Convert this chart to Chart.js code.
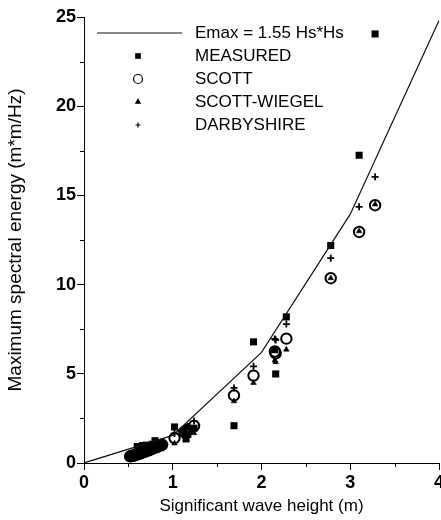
<!DOCTYPE html>
<html>
<head>
<meta charset="utf-8">
<script src="https://cdn.jsdelivr.net/npm/chart.js@4"></script>
<style>
  html, body { margin: 0; padding: 0; background: #fff; overflow: hidden; }
  #wrap { width: 460px; height: 520px; }
</style>
</head>
<body>
<div id="wrap"><canvas id="energyChart" width="460" height="520"></canvas></div>
<script>
// Significant wave height (m) for each record
var hs = [0.52, 0.53, 0.54, 0.55, 0.56, 0.57, 0.58, 0.59, 0.60, 0.61, 0.62, 0.63, 0.64, 0.65, 0.66,
          0.67, 0.69, 0.70, 0.72, 0.74, 0.75, 0.77, 0.78, 0.80, 0.81, 0.82, 0.84, 0.86, 0.88,
          1.02, 1.13, 1.15, 1.17, 1.24, 1.69, 1.91, 2.15, 2.16, 2.28, 2.78, 3.10, 3.28];
// Maximum spectral energy (m*m/Hz): measured and the three estimates
var measured = [0.30, 0.38, 0.42, 0.28, 0.33, 0.45, 0.50, 0.60, 0.92, 0.40, 0.55, 0.78, 0.70, 0.50, 0.98,
                0.88, 0.64, 1.00, 0.82, 0.65, 0.72, 1.05, 0.90, 1.25, 0.75, 0.92, 1.10, 0.85, 0.95,
                2.02, 1.80, 1.35, 1.60, 1.95, 2.09, 6.79, 6.35, 4.99, 8.19, 12.19, 17.25, 24.05];
var scott = [0.37, 0.38, 0.40, 0.41, 0.43, 0.44, 0.46, 0.47, 0.49, 0.50, 0.52, 0.54, 0.56, 0.57, 0.59,
             0.61, 0.64, 0.66, 0.70, 0.74, 0.76, 0.80, 0.82, 0.87, 0.89, 0.91, 0.95, 1.00, 1.02,
             1.40, 1.75, 1.80, 1.85, 2.08, 3.79, 4.90, 6.25, 6.15, 6.97, 10.36, 12.95, 14.45];
var scottWiegel = [0.33, 0.34, 0.36, 0.37, 0.39, 0.40, 0.41, 0.42, 0.44, 0.45, 0.47, 0.49, 0.50, 0.51, 0.53,
                   0.55, 0.58, 0.59, 0.63, 0.67, 0.68, 0.72, 0.74, 0.78, 0.80, 0.82, 0.86, 0.90, 0.92,
                   1.10, 1.50, 1.55, 1.60, 1.68, 3.46, 4.49, 5.75, 5.66, 6.36, 10.36, 13.00, 14.50];
var darbyshire = [0.41, 0.43, 0.45, 0.46, 0.48, 0.49, 0.52, 0.53, 0.55, 0.56, 0.58, 0.60, 0.63, 0.64, 0.66,
                  0.68, 0.72, 0.74, 0.78, 0.83, 0.85, 0.90, 0.92, 0.97, 1.00, 1.02, 1.06, 1.12, 1.15,
                  1.65, 1.95, 2.00, 2.05, 2.35, 4.21, 5.42, 6.95, 6.90, 7.79, 11.48, 14.36, 16.04];
// Emax = 1.55 Hs*Hs evaluated at whole metres
var curveHs = [0, 1, 2, 3, 4];
var curveE = [0, 1.55, 6.20, 13.95, 24.80];

function pairs(xs, ys) {
  return xs.map(function (x, i) { return { x: x, y: ys[i] }; });
}

var labelFont = 'Arial, "Liberation Sans", sans-serif';

var datasets = [
  {
    label: 'Emax = 1.55 Hs*Hs',
    data: pairs(curveHs, curveE),
    showLine: true,
    borderColor: '#111',
    borderWidth: 1.2,
    pointRadius: 0,
    fill: false
  },
  {
    label: 'MEASURED',
    data: pairs(hs, measured),
    pointStyle: 'rect',
    pointRadius: 5,
    backgroundColor: '#000',
    borderColor: '#000',
    borderWidth: 0
  },
  {
    label: 'SCOTT',
    data: pairs(hs, scott),
    pointStyle: 'circle',
    pointRadius: 5.2,
    backgroundColor: 'rgba(0,0,0,0)',
    borderColor: '#000',
    borderWidth: 2
  },
  {
    label: 'SCOTT-WIEGEL',
    data: pairs(hs, scottWiegel),
    pointStyle: 'triangle',
    pointRadius: 3.2,
    backgroundColor: '#000',
    borderColor: '#000',
    borderWidth: 0.6
  },
  {
    label: 'DARBYSHIRE',
    data: pairs(hs, darbyshire),
    pointStyle: 'cross',
    pointRadius: 3.5,
    backgroundColor: '#000',
    borderColor: '#000',
    borderWidth: 1.8
  }
];

// short minor ticks at the half steps, and the legend block in the upper left
var extras = {
  id: 'extras',
  afterDraw: function (chart) {
    var ctx = chart.ctx;
    var xs = chart.scales.x, ys = chart.scales.y;
    ctx.save();
    ctx.strokeStyle = '#000';
    ctx.lineWidth = 1;
    ctx.beginPath();
    for (var v = 2.5; v < 25; v += 5) {
      var py = Math.round(ys.getPixelForValue(v)) + 0.5;
      ctx.moveTo(xs.left - 4, py);
      ctx.lineTo(xs.left, py);
    }
    for (var u = 0.5; u < 4; u += 1) {
      var px = Math.round(xs.getPixelForValue(u)) + 0.5;
      ctx.moveTo(px, ys.bottom);
      ctx.lineTo(px, ys.bottom + 4);
    }
    ctx.stroke();

    var rowY = [33, 56, 79, 102, 125];
    var markX = 138, textX = 195;
    ctx.font = '17px ' + labelFont;
    ctx.fillStyle = '#000';
    ctx.textBaseline = 'middle';
    chart.data.datasets.forEach(function (ds, i) {
      var y = rowY[i];
      if (i === 0) {
        ctx.beginPath();
        ctx.lineWidth = 1.2;
        ctx.strokeStyle = '#111';
        ctx.moveTo(97, y);
        ctx.lineTo(182, y);
        ctx.stroke();
      } else {
        ctx.fillStyle = ds.backgroundColor;
        ctx.strokeStyle = ds.borderColor;
        Chart.helpers.drawPoint(ctx, {
          pointStyle: ds.pointStyle,
          radius: i === 2 ? 4.5 : (i === 1 ? 4 : 2.5),
          borderWidth: i === 2 ? 1.5 : ds.borderWidth,
          rotation: 0
        }, markX, y);
      }
      ctx.fillStyle = '#000';
      ctx.fillText(ds.label, textX, y);
    });
    ctx.restore();
  }
};

var ctx = document.getElementById('energyChart').getContext('2d');
var energyChart = new Chart(ctx, {
  type: 'scatter',
  data: { datasets: datasets },
  plugins: [extras],
  options: {
    responsive: false,
    animation: false,
    layout: { padding: { left: 0, top: 17, right: 21, bottom: 0 } },
    plugins: {
      legend: { display: false },
      tooltip: { enabled: false }
    },
    scales: {
      x: {
        type: 'linear',
        min: 0,
        max: 4,
        afterFit: function (scale) { scale.height = 57; },
        border: { display: true, color: '#000', width: 1 },
        grid: {
          drawOnChartArea: false,
          drawTicks: true,
          tickLength: 7,
          color: function (c) { return c.tick && c.tick.value % 1 === 0 ? '#000' : 'rgba(0,0,0,0)'; }
        },
        ticks: {
          stepSize: 0.5,
          padding: 2,
          color: '#000',
          font: { family: labelFont, size: 18, weight: 'bold' },
          callback: function (v) { return v % 1 === 0 ? v : ''; }
        },
        title: {
          display: true,
          text: 'Significant wave height (m)',
          color: '#000',
          font: { family: labelFont, size: 17 },
          padding: { top: 0, bottom: 3 }
        }
      },
      y: {
        type: 'linear',
        min: 0,
        max: 25,
        afterFit: function (scale) { scale.width = 84; },
        border: { display: true, color: '#000', width: 1 },
        grid: {
          drawOnChartArea: false,
          drawTicks: true,
          tickLength: 7,
          color: function (c) { return c.tick && c.tick.value % 5 === 0 ? '#000' : 'rgba(0,0,0,0)'; }
        },
        ticks: {
          stepSize: 2.5,
          padding: 1,
          color: '#000',
          font: { family: labelFont, size: 18, weight: 'bold' },
          callback: function (v) { return v % 5 === 0 ? v : ''; }
        },
        title: {
          display: true,
          text: 'Maximum spectral energy (m*m/Hz)',
          color: '#000',
          font: { family: labelFont, size: 19 },
          padding: { top: 4, bottom: 0 }
        }
      }
    }
  }
});
</script>
</body>
</html>
